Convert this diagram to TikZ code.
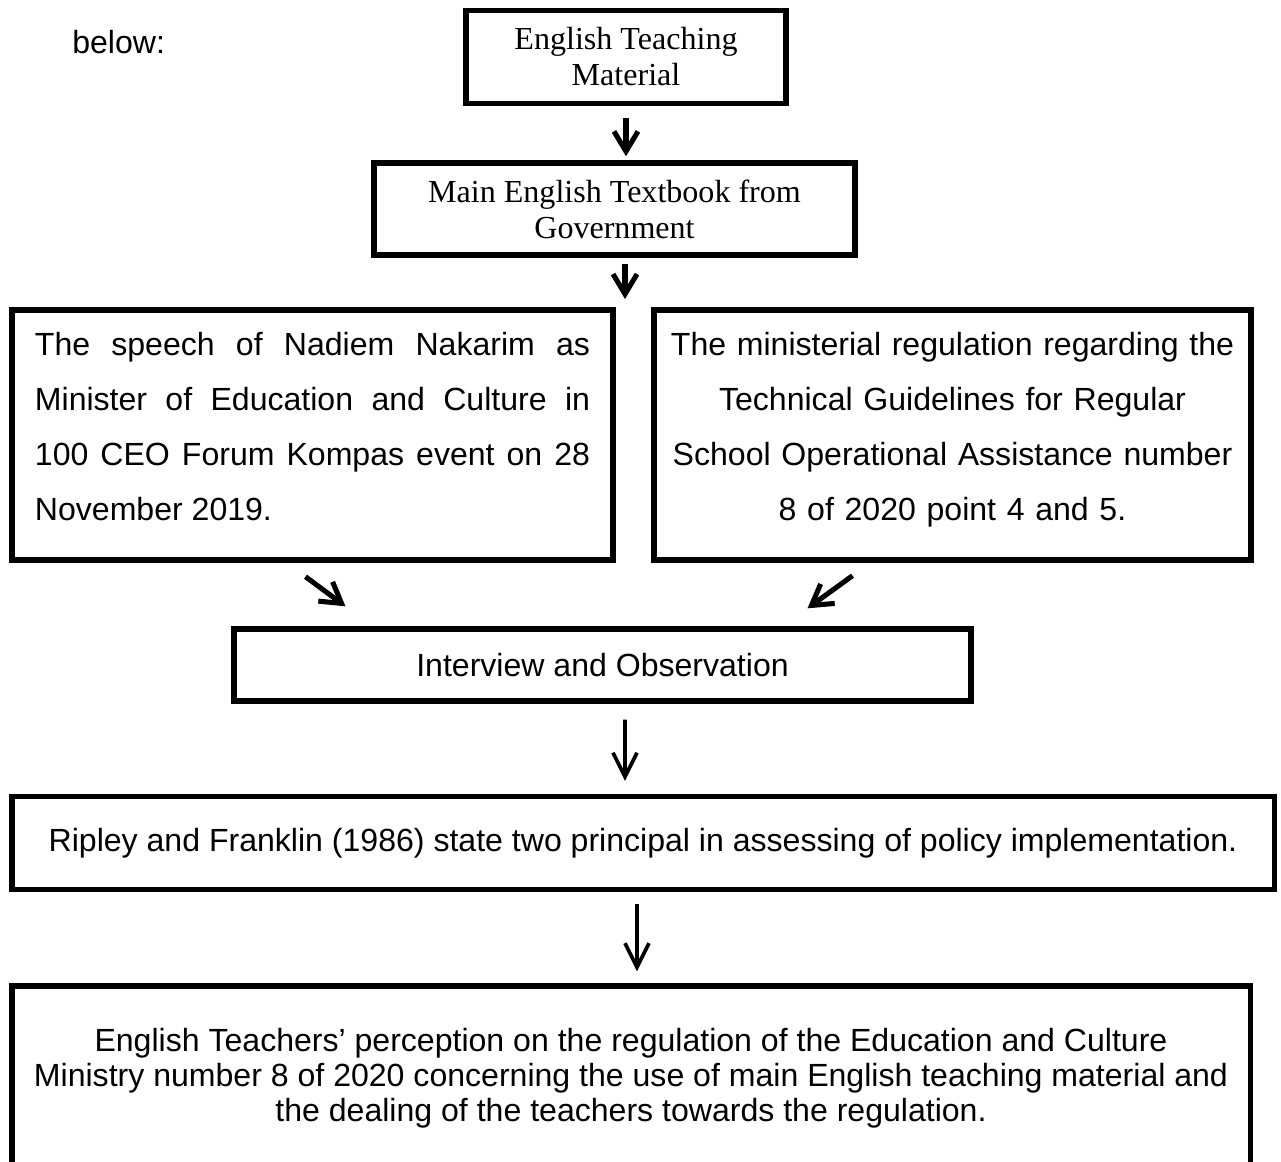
\documentclass[tikz,border=0pt]{standalone}
\usepackage{fontspec}
\setmainfont{Liberation Sans}
\newfontfamily\timesfont{Liberation Serif}
\usetikzlibrary{arrows.meta,calc}

\newcommand{\bodysize}{\fontsize{22.8pt}{25pt}\selectfont}

\tikzset{
  box/.style={draw, line width=3.8pt, inner sep=0pt, align=center, font=\bodysize},
  serifbox/.style={box, font=\timesfont\fontsize{22.8pt}{25.6pt}\selectfont},
  arr/.style={line width=3.6pt, -{Straight Barb[length=0.5cm,width=0.6cm]}},
  longarr/.style={line width=2.6pt, -{Straight Barb[length=0.6cm,width=0.6cm]}},
}

\begin{document}
\begin{tikzpicture}[x=0.025cm, y=-0.025cm]
            \clip (0,0) rectangle (1281,1162);

            \node[anchor=west, inner sep=0pt, font=\bodysize] (intro) at (72,42) {below:};

            % Top chain
            \node[serifbox, minimum width=8cm, minimum height=2.325cm] (material) at (626,57) {English Teaching\\Material};
            \node[serifbox, minimum width=12.025cm, minimum height=2.3cm] (textbook) at (614.5,209) {Main English Textbook from\\Government};
            \coordinate (gap) at (625,299);

            % Two sources
            \node[box, minimum width=15.025cm, minimum height=6.25cm, text width=13.875cm, align=justify,
                  font=\fontsize{22.8pt}{39.1pt}\selectfont] (speech) at (312.5,435)
                  {The speech of Nadiem Nakarim as\linebreak Minister of Education and Culture in\linebreak 100 CEO Forum Kompas event on 28\linebreak November 2019.\par\kern0.4cm};
            \node[box, minimum width=14.925cm, minimum height=6.25cm, text width=14.5cm, align=center,
                  font=\fontsize{22.8pt}{39.1pt}\selectfont] (regulation) at (952.5,435)
                  {The ministerial regulation regarding the\\Technical Guidelines for Regular\\School Operational Assistance number\\8 of 2020 point 4 and 5.\par\kern0.25cm};

            \node[box, minimum width=18.425cm, minimum height=1.8cm] (interview) at (602.5,665) {Interview and Observation};
            \node[box, minimum width=31.55cm, minimum height=2.325cm] (ripley) at (643,843)
                  {Ripley and Franklin (1986) state two principal in assessing of policy implementation.};
            \node[box, minimum width=30.95cm, minimum height=4.6cm, font=\fontsize{22.8pt}{24.9pt}\selectfont] (perception) at (631,1078)
                  {English Teachers’ perception on the regulation of the Education and Culture\\
                   Ministry number 8 of 2020 concerning the use of main English teaching material and\\
                   the dealing of the teachers towards the regulation.};

            % Arrows
            \draw[arr, shorten <=0.3cm, shorten >=0.1cm] (material.south) -- (material.south |- textbook.north);
            \draw[arr, shorten <=0.15cm] (textbook.south -| gap) -- (gap);
            \draw[arr] ($(speech.south)+(-7,14)$) -- ($(interview.north)+(-257,-20)$);
            \draw[arr] ($(regulation.south)+(-100,13)$) -- ($(interview.north)+(205,-18)$);
            \draw[longarr] ($(interview.south)+(22.5,16)$) -- ($(ripley.north)+(-18,-13)$);
            \draw[longarr] ($(ripley.south)+(-6,12)$) -- ($(perception.north)+(6,-12)$);
        \end{tikzpicture}
\end{document}
